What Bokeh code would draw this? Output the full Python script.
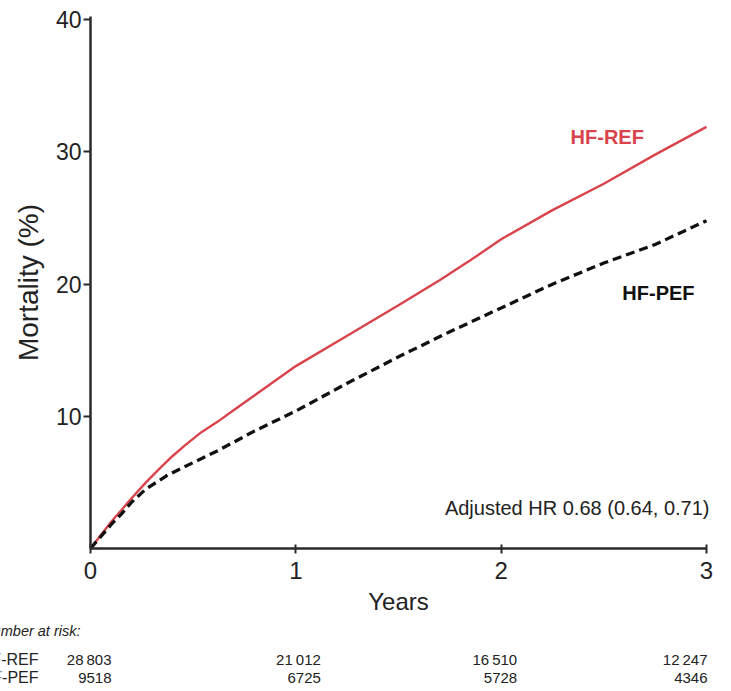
from bokeh.plotting import figure
from bokeh.models import Range1d, FixedTicker, Label
from bokeh.core.properties import value
from bokeh.embed import file_html
from bokeh.resources import INLINE

# ---------------- data ----------------
years_ref = [0, 0.05, 0.10, 0.15, 0.20, 0.27, 0.34, 0.40, 0.46, 0.54, 0.62,
             0.70, 0.80, 1.00, 1.25, 1.50, 1.70, 1.85, 2.00, 2.25, 2.50,
             2.75, 3.00]
mort_ref = [0, 1.0, 2.0, 2.9, 3.8, 5.0, 6.1, 7.0, 7.8, 8.8, 9.6,
            10.5, 11.6, 13.8, 16.1, 18.4, 20.3, 21.8, 23.4, 25.6, 27.6,
            29.8, 31.9]

years_pef = [0, 0.05, 0.10, 0.15, 0.20, 0.27, 0.37, 0.50, 0.62, 0.80, 1.00,
             1.25, 1.50, 1.75, 2.00, 2.25, 2.50, 2.75, 3.00]
mort_pef = [0, 0.9, 1.8, 2.6, 3.5, 4.5, 5.5, 6.5, 7.4, 8.9, 10.4,
            12.5, 14.5, 16.4, 18.2, 20.0, 21.6, 23.0, 24.8]

x_ticks = [0, 1, 2, 3]
y_ticks = [10, 20, 30, 40]

risk_times = [0, 1, 2, 3]
risk_groups = ["HF-REF", "HF-PEF"]
risk_ref = ["28\u2009803", "21\u2009012", "16\u2009510", "12\u2009247"]
risk_pef = ["9518", "6725", "5728", "4346"]

# ---------------- layout / style ----------------
W, H = 731, 691
AX_LEFT_PX, AX_RIGHT_PX = 90, 706      # x = 0 .. 3
AX_TOP_PX, AX_BOTTOM_PX = 16, 548      # y = 40.25 .. 0
X_LO, X_HI = 0, 3.0
Y_LO, Y_HI = 0, 40.25
PX_PER_X = (AX_RIGHT_PX - AX_LEFT_PX) / (X_HI - X_LO)
PX_PER_Y = (AX_BOTTOM_PX - AX_TOP_PX) / (Y_HI - Y_LO)


def px_to_y(py):
    return (AX_BOTTOM_PX - py) / PX_PER_Y


SANS = "Liberation Sans, Arial, sans-serif"
INK = "#222222"
RED = "#d9434c"

risk_x_offset = [21, 25, 16, 1]          # px, right-aligned numeric columns
row_px = [630, 659, 677]                 # header, HF-REF, HF-PEF rows

p = figure(width=W, height=H, output_backend="svg", toolbar_location=None,
           x_range=Range1d(X_LO - AX_LEFT_PX / PX_PER_X,
                           X_LO + (W - AX_LEFT_PX) / PX_PER_X),
           y_range=Range1d(px_to_y(H), px_to_y(0)),
           min_border_left=0, min_border_right=0,
           min_border_top=0, min_border_bottom=0)
p.outline_line_color = None
p.xgrid.visible = False
p.ygrid.visible = False

p.line(years_ref, mort_ref, line_color=RED, line_width=2.4)
p.line(years_pef, mort_pef, line_color="#111111", line_width=3.3,
       line_dash="9 5")

for ax in (p.xaxis[0], p.yaxis[0]):
    ax.fixed_location = 0
    ax.axis_line_width = 2.5
    ax.axis_line_color = "#2a2a2a"
    ax.major_tick_line_width = 2
    ax.major_tick_line_color = "#2a2a2a"
    ax.minor_tick_line_color = None
    ax.major_label_text_color = INK
    ax.axis_label_text_color = INK
    ax.axis_label_text_font_style = "normal"
    ax.major_label_text_font = SANS
    ax.axis_label_text_font = SANS

p.xaxis.bounds = (X_LO, X_HI)
p.xaxis.ticker = FixedTicker(ticks=x_ticks)
p.xaxis.major_tick_in = 4
p.xaxis.major_tick_out = 5
p.xaxis.major_label_text_font_size = "24px"
p.xaxis.major_label_standoff = 8
p.xaxis.axis_label = "Years"
p.xaxis.axis_label_text_font_size = "24px"
p.xaxis.axis_label_standoff = 6

p.yaxis.bounds = (Y_LO, Y_HI)
p.yaxis.ticker = FixedTicker(ticks=y_ticks)
p.yaxis.major_tick_in = 0
p.yaxis.major_tick_out = 7
p.yaxis.major_label_text_font_size = "23px"
p.yaxis.major_label_standoff = 2
p.yaxis.axis_label = "Mortality (%)"
p.yaxis.axis_label_text_font_size = "28px"
p.yaxis.axis_label_standoff = 9

# curve labels and HR annotation
p.add_layout(Label(x=2.338, y=31.1, text="HF-REF", text_color=RED,
                   text_font=SANS, text_font_size="20px",
                   text_font_style="bold", text_baseline="middle"))
p.add_layout(Label(x=2.59, y=19.3, text="HF-PEF", text_color="#111111",
                   text_font=SANS, text_font_size="20px",
                   text_font_style="bold", text_baseline="middle"))
p.add_layout(Label(x=X_HI, y=3.1, x_offset=3,
                   text="Adjusted HR 0.68 (0.64, 0.71)",
                   text_color=INK, text_font=SANS, text_font_size="20px",
                   text_align="right", text_baseline="middle"))

# number at risk table
p.text(x=[X_LO], y=[px_to_y(row_px[0])], text=["Number at risk:"],
       x_offset=-10, text_align="right", text_baseline="middle",
       text_color=INK, text_font=value(SANS),
       text_font_size=value("14.5px"), text_font_style="italic")

p.text(x=[X_LO, X_LO], y=[px_to_y(v) for v in row_px[1:]], text=risk_groups,
       x_offset=-52, text_align="right", text_baseline="middle",
       text_color=INK, text_font=value(SANS), text_font_size=value("16px"))

for py, vals in zip(row_px[1:], (risk_ref, risk_pef)):
    p.text(x=risk_times, y=[px_to_y(py)] * len(vals), text=vals,
           x_offset=risk_x_offset, text_align="right",
           text_baseline="middle", text_color=INK,
           text_font=value(SANS), text_font_size=value("15px"))

open("out.html", "w").write(file_html(p, INLINE))
